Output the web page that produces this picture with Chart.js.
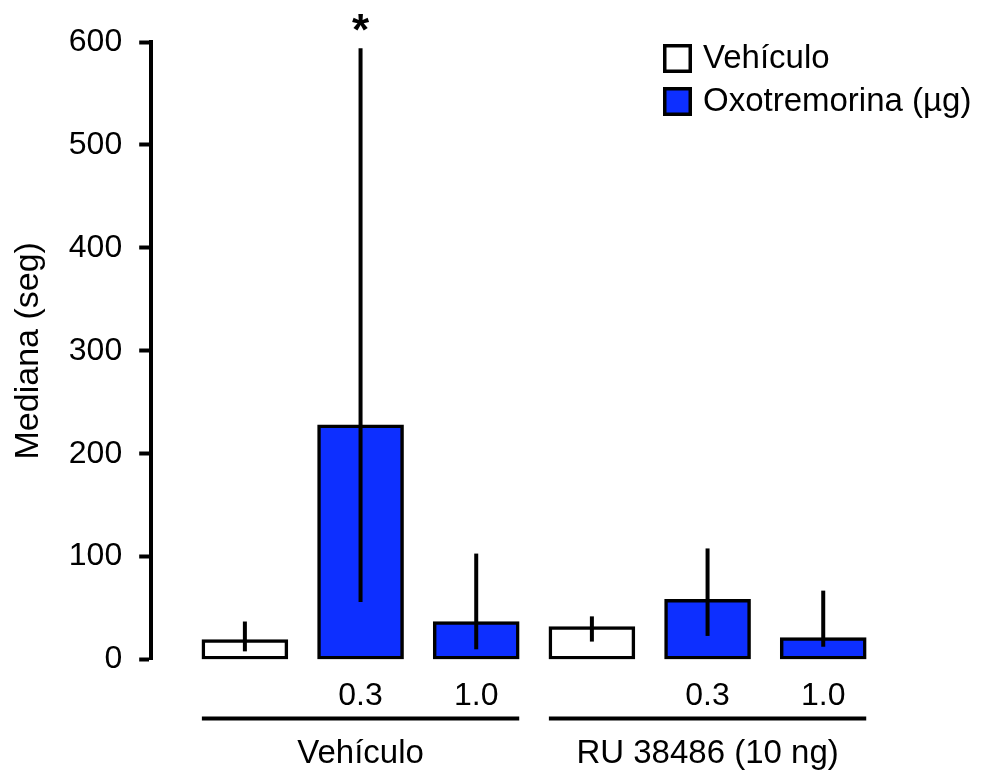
<!DOCTYPE html>
<html>
<head>
<meta charset="utf-8">
<title>Mediana (seg)</title>
<script src="https://cdn.jsdelivr.net/npm/chart.js@4.4.0/dist/chart.umd.min.js"></script>
<style>
  html, body { margin: 0; padding: 0; background: #fff; }
  #wrap { width: 987px; height: 772px; }
</style>
</head>
<body>
<div id="wrap"><canvas id="chart" width="987" height="772"></canvas></div>
<script>
'use strict';

// datos
const xLabels = ['', '0.3', '1.0', '', '0.3', '1.0'];
const vehiculoValues = [19.5, null, null, 32, null, null];
const oxoValues = [null, 228, 37, null, 58.5, 21.5];
const errLow = [8, 56, 10, 17.5, 23, 12.5];
const errHigh = [37, 594, 103, 42, 108, 67];
const signif = ['', '*', '', '', '', ''];
const groupLabels = ['Vehículo', 'RU 38486 (10 ng)'];
const groupStart = [0, 3];
const groupEnd = [2, 5];
const yTicks = [0, 100, 200, 300, 400, 500, 600];

const FONT = "'Liberation Sans', Arial, sans-serif";
const BAR_W = 86;

function toPoints(values) {
    return values.map((v, i) => ({ x: i, y: v })).filter(p => p.y !== null);
}

// barras de error (sin remates) y asterisco
const errorBars = {
    id: 'errorBars',
    afterDatasetsDraw(chart) {
        const { ctx, scales: { x, y } } = chart;
        ctx.save();
        ctx.strokeStyle = '#000';
        ctx.lineWidth = 4;
        errLow.forEach((lo, i) => {
            if (lo === null) return;
            const px = x.getPixelForValue(i);
            const top = y.getPixelForValue(errHigh[i]);
            ctx.beginPath();
            ctx.moveTo(px, y.getPixelForValue(lo));
            ctx.lineTo(px, top);
            ctx.stroke();
            if (signif[i]) {
                ctx.fillStyle = '#000';
                ctx.font = 'bold 44px ' + FONT;
                ctx.textAlign = 'center';
                ctx.textBaseline = 'alphabetic';
                ctx.fillText(signif[i], px, top - 3);
            }
        });
        ctx.restore();
    }
};

// líneas y etiquetas de grupo bajo el eje x
const groupAxis = {
    id: 'groupAxis',
    afterDraw(chart) {
        const { ctx, chartArea, scales: { x } } = chart;
        const lineY = chartArea.bottom + 59;
        ctx.save();
        ctx.strokeStyle = '#000';
        ctx.lineWidth = 4;
        ctx.fillStyle = '#000';
        ctx.font = '33px ' + FONT;
        ctx.textAlign = 'center';
        ctx.textBaseline = 'middle';
        groupLabels.forEach((label, g) => {
            const x0 = x.getPixelForValue(groupStart[g]) - BAR_W / 2;
            const x1 = x.getPixelForValue(groupEnd[g]) + BAR_W / 2;
            ctx.beginPath();
            ctx.moveTo(x0, lineY);
            ctx.lineTo(x1, lineY);
            ctx.stroke();
            ctx.fillText(label, (x0 + x1) / 2, lineY + 35);
        });
        ctx.restore();
    }
};

// leyenda arriba a la derecha
const boxLegend = {
    id: 'boxLegend',
    afterDraw(chart) {
        const { ctx } = chart;
        ctx.save();
        chart.data.datasets.forEach((ds, i) => {
            const top = 44 + i * 43;
            ctx.fillStyle = ds.backgroundColor;
            ctx.fillRect(663, top, 29, 29);
            ctx.strokeStyle = '#000';
            ctx.lineWidth = 3.5;
            ctx.strokeRect(664.75, top + 1.75, 25.5, 25.5);
            ctx.fillStyle = '#000';
            ctx.font = '33px ' + FONT;
            ctx.textAlign = 'left';
            ctx.textBaseline = 'middle';
            ctx.fillText(ds.label, 703, top + 15);
        });
        ctx.restore();
    }
};

new Chart(document.getElementById('chart'), {
    type: 'bar',
    data: {
        datasets: [
            { label: 'Vehículo', data: toPoints(vehiculoValues), backgroundColor: '#ffffff' },
            { label: 'Oxotremorina (µg)', data: toPoints(oxoValues), backgroundColor: '#0d2fff' }
        ]
    },
    options: {
        responsive: false,
        animation: false,
        layout: { padding: { left: 0, top: 42, right: 40, bottom: 40 } },
        datasets: {
            bar: { grouped: false, barThickness: BAR_W, borderWidth: 3.5, borderColor: '#000', borderSkipped: false }
        },
        plugins: { legend: { display: false }, tooltip: { enabled: false } },
        scales: {
            x: {
                type: 'linear',
                offset: false,
                min: -0.81,
                max: 6.07,
                grid: { display: false, drawTicks: false, offset: false },
                border: { display: false },
                afterBuildTicks: (scale) => { scale.ticks = xLabels.map((_, i) => ({ value: i })); },
                ticks: {
                    autoSkip: false,
                    maxRotation: 0,
                    padding: 17,
                    color: '#000',
                    font: { family: FONT, size: 32 },
                    callback: (v) => xLabels[v] ?? ''
                }
            },
            y: {
                min: 0,
                max: 600,
                afterBuildTicks: (scale) => { scale.ticks = yTicks.map(v => ({ value: v })); },
                grid: { drawOnChartArea: false, drawTicks: true, tickLength: 12, tickWidth: 4, tickColor: '#000' },
                border: { display: true, color: '#000', width: 4 },
                ticks: { padding: 17, color: '#000', font: { family: FONT, size: 32 } },
                title: {
                    display: true,
                    text: 'Mediana (seg)',
                    color: '#000',
                    font: { family: FONT, size: 34 },
                    padding: { top: 8, bottom: 3 }
                }
            }
        }
    },
    plugins: [errorBars, groupAxis, boxLegend]
});
</script>
</body>
</html>
